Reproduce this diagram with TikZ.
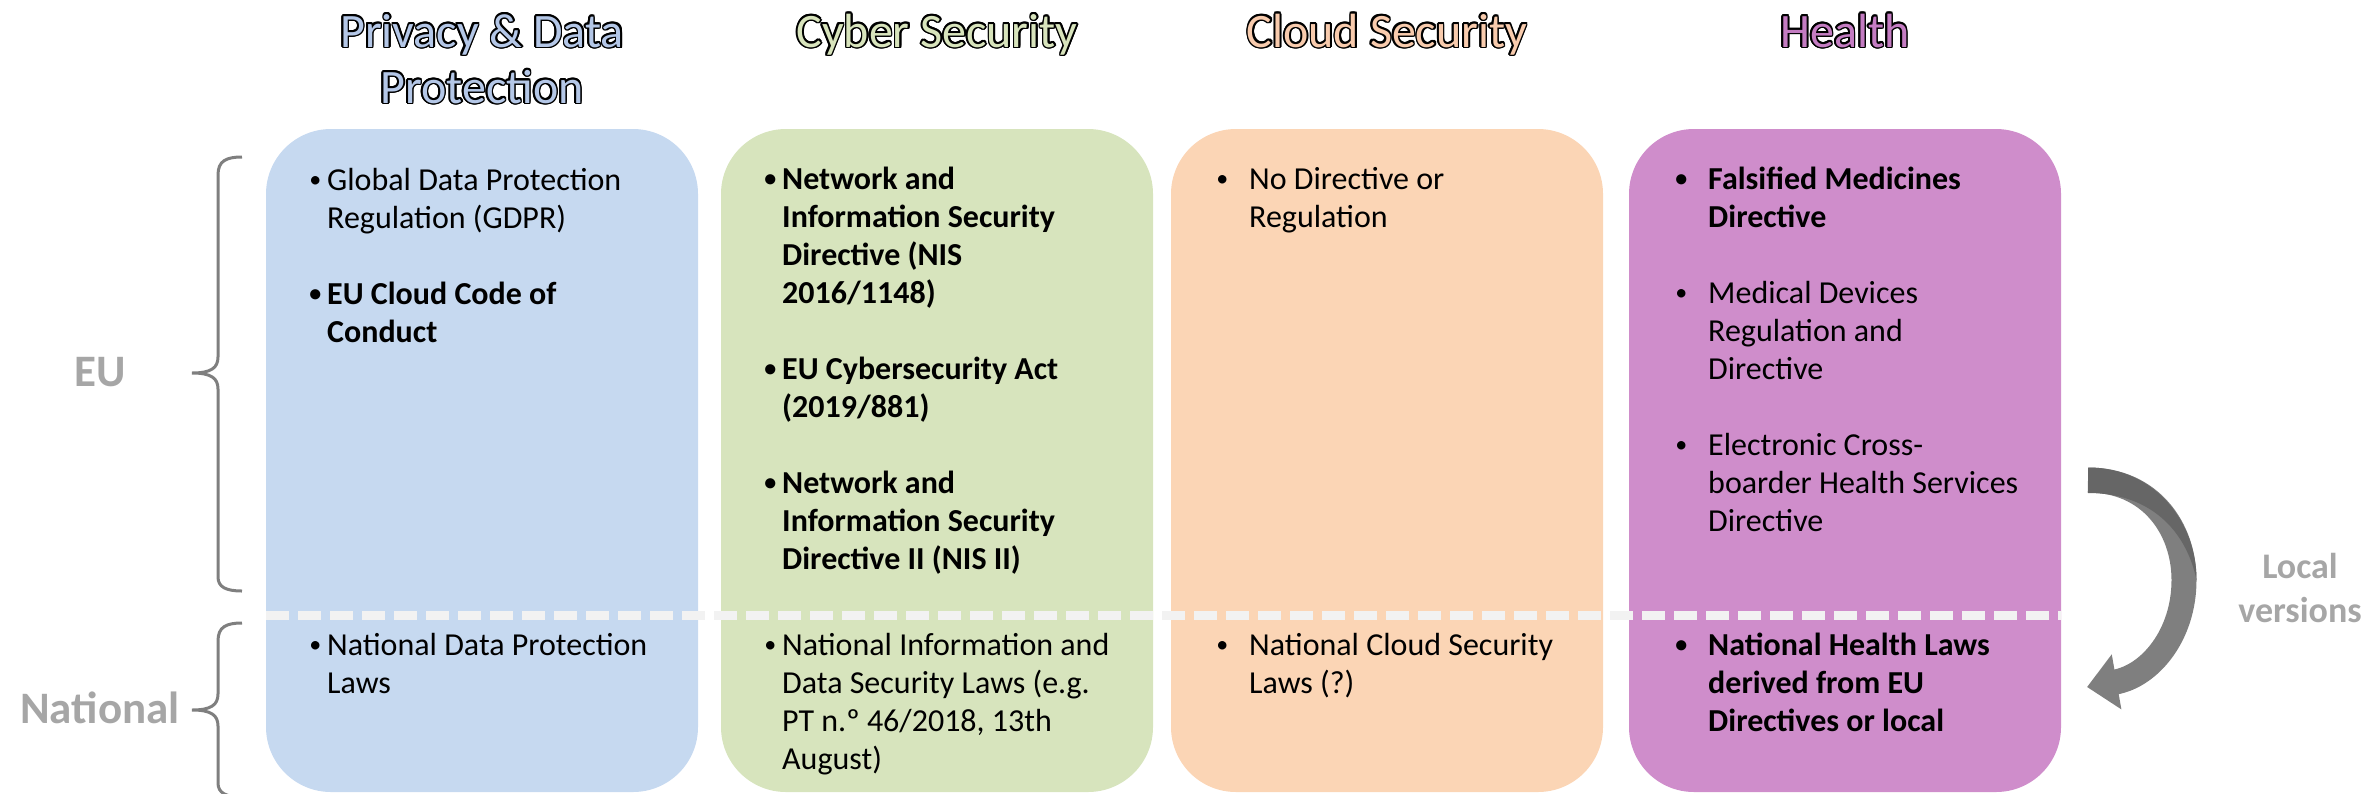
\documentclass[tikz,border=0pt]{standalone}
\usepackage{fontspec}
\setmainfont{Carlito}
\usepackage[copies]{contour}
\usetikzlibrary{arrows.meta}
\contourlength{1.6pt}
\definecolor{pdpfill}{HTML}{C6D9F0}
\definecolor{cyberfill}{HTML}{D7E4BD}
\definecolor{cloudfill}{HTML}{FBD5B5}
\definecolor{healthfill}{HTML}{CF8DCB}
\definecolor{pdphead}{HTML}{B4C7E7}
\definecolor{cyberhead}{HTML}{D8E4BC}
\definecolor{cloudhead}{HTML}{F8CBAD}
\definecolor{healthhead}{HTML}{C47CC2}
\definecolor{labelgray}{HTML}{A6A6A6}
\definecolor{bracegray}{HTML}{7F7F7F}
\definecolor{dashwhite}{HTML}{F2F2F2}
\definecolor{arrowgray}{HTML}{7F7F7F}
\definecolor{arrowdark}{HTML}{666666}
\newcommand\dotmark{\raisebox{2.5pt}{\fontsize{24}{24}\selectfont\textbullet}}
\newcommand\bul{\strut\llap{\dotmark\hspace{6pt}}}
\newcommand\bultab{\strut\llap{\dotmark\hspace{21pt}}}

\begin{document}
\begin{tikzpicture}[x=1pt,y=-1pt,
    colbox/.style={rectangle, rounded corners=65pt, minimum width=432pt,
      minimum height=663pt, inner sep=0pt, outer sep=0pt},
    colhead/.style={font=\fontsize{48}{56}\selectfont, align=center, anchor=base},
    lawtext/.style={font=\fontsize{32}{38}\selectfont, align=left,
      anchor=north west, inner sep=0pt, text=black},
    levellabel/.style={font=\fontsize{45}{50}\selectfont\bfseries, text=labelgray, anchor=base},
    bracepen/.style={draw=bracegray, line width=3pt},
    divider/.style={draw=dashwhite, line width=9pt, dash pattern=on 23pt off 9pt}]
  \useasboundingbox (0,0) rectangle (2369,793);

  % columns
  \foreach \name/\x/\col in {pdp/482/pdpfill, cyber/937/cyberfill,
      cloud/1387/cloudfill, health/1845/healthfill}
    \node[colbox, fill=\col] (\name) at (\x,460.5) {};

  % headers (base = last line)
  \node[colhead, text=pdphead] (pdp-head) at (482,103)
    {\contour{black}{Privacy \& Data}\\\contour{black}{Protection}};
  \node[colhead, text=cyberhead] (cyber-head) at (937,47) {\contour{black}{Cyber Security}};
  \node[colhead, text=cloudhead] (cloud-head) at (1387,47) {\contour{black}{Cloud Security}};
  \node[colhead, text=healthhead] (health-head) at (1845,47) {\contour{black}{Health}};

  % EU / national split
  \draw[divider] (pdp.west |- 0,615) -- (health.east |- 0,615);

  % EU level (top = first baseline - 26.6)
  \node[lawtext] (pdp-eu) at (327,163.4)
    {\bul Global Data Protection\\Regulation (GDPR)\\[38pt]
     \bfseries\bul EU Cloud Code of\\\bfseries Conduct};
  \node[lawtext, font=\fontsize{32}{38}\selectfont\bfseries] (cyber-eu) at (782,162.4)
    {\bul Network and\\Information Security\\Directive (NIS\\2016/1148)\\[38pt]
     \bul EU Cybersecurity Act\\(2019/881)\\[38pt]
     \bul Network and\\Information Security\\Directive II (NIS II)};
  \node[lawtext] (cloud-eu) at (1249,162.4)
    {\bultab No Directive or\\Regulation};
  \node[lawtext] (health-eu) at (1708,162.4)
    {\bfseries\bultab Falsified Medicines\\\bfseries Directive\\[38pt]
     \bultab Medical Devices\\Regulation and\\Directive\\[38pt]
     \bultab Electronic Cross-\\boarder Health Services\\Directive};

  % national level
  \node[lawtext] (pdp-nat) at (327,628.4) {\bul National Data Protection\\Laws};
  \node[lawtext] (cyber-nat) at (782,628.4)
    {\bul National Information and\\Data Security Laws (e.g.\\PT n.º 46/2018, 13th\\August)};
  \node[lawtext] (cloud-nat) at (1249,628.4) {\bultab National Cloud Security\\Laws (?)};
  \node[lawtext, font=\fontsize{32}{38}\selectfont\bfseries] (health-nat) at (1708,628.4)
    {\bultab National Health Laws\\derived from EU\\Directives or local};

  % level labels and braces
  \node[levellabel] (eu) at (100,386) {EU};
  \node[levellabel] (national) at (100,723) {National};
  \coordinate (eu-top) at (242,157);
  \coordinate (eu-bot) at (242,591);
  \coordinate (nat-top) at (242,623);
  \coordinate (nat-bot) at (242,797);
  \draw[bracepen] (eu-top) .. controls (226,157) and (218,161) .. (218,175) -- (218,357)
    .. controls (218,368) and (211,373) .. (192,373)
    .. controls (211,373) and (218,378) .. (218,389) -- (218,577)
    .. controls (218,587) and (226,591) .. (eu-bot);
  \draw[bracepen] (nat-top) .. controls (226,623) and (218,627) .. (218,641) -- (218,694)
    .. controls (218,705) and (211,710) .. (192,710)
    .. controls (211,710) and (218,715) .. (218,726) -- (218,783)
    .. controls (218,793) and (226,797) .. (nat-bot);

  % local versions arrow
  \coordinate (arrow-tail) at (2088,480);
  \coordinate (arrow-tip) at (2087,687);
  \draw[line width=25pt, draw=arrowgray, -{Triangle[width=54pt,length=30pt]}]
    (arrow-tail) .. controls (2150,480) and (2184,528) .. (2184,580)
    .. controls (2184,635) and (2150,676) .. (arrow-tip);
  \fill[arrowdark] (2088,467.5) .. controls (2155,467.5) and (2196.5,522) .. (2196.5,580)
    .. controls (2186,530) and (2150,493) .. (2088,493) -- cycle;
  \node[font=\fontsize{36}{44}\selectfont\bfseries, text=labelgray, align=center,
    anchor=base] (local) at (2300,622) {Local\\versions};
\end{tikzpicture}
\end{document}
